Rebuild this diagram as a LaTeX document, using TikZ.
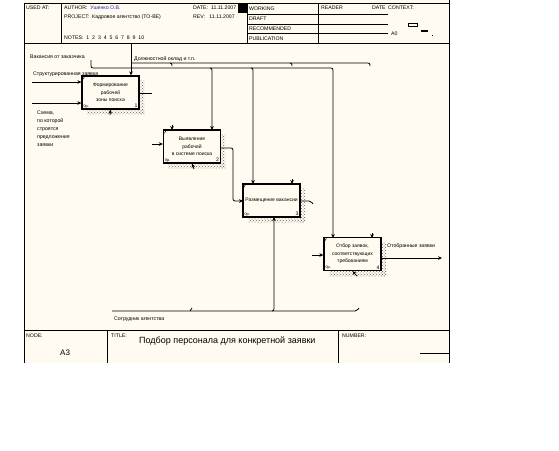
\documentclass[tikz,border=0pt]{standalone}
\usepackage{fontspec}
\setmainfont{Liberation Sans}
\usetikzlibrary{arrows.meta,patterns,calc}
\definecolor{cream}{RGB}{255,251,240}
\definecolor{authblue}{RGB}{40,40,170}
\begin{document}
\begin{tikzpicture}[x=1pt,y=-1pt,
  tiny/.style={font=\fontsize{5.2}{6}\selectfont, inner sep=0pt},
  lbl/.style={tiny, anchor=base west},
  frameline/.style={line width=0.8pt},
  conn/.style={line width=0.8pt, rounded corners=2pt},
  arr/.style={conn, -{Stealth[length=4pt,width=3.6pt]}},
  box/.style={draw, line width=1.3pt, fill=cream, minimum width=57pt, minimum height=33pt,
    inner sep=0pt, align=center, font=\fontsize{5}{7.5}\selectfont},
  shadowpat/.style={pattern=crosshatch dots, pattern color=black!60},
]
\useasboundingbox (0,0) rectangle (559,450);
\fill[cream] (24,0) rectangle (449,363);
% ---------- frame ----------
\draw[frameline] (24,3) -- (449,3);
\draw[frameline] (24,3) -- (24,363);
\draw[frameline] (449,0) -- (449,363);
\draw[frameline] (24,43) -- (449,43);
\draw[frameline] (61,3) -- (61,43);
\draw[frameline] (247,3) -- (247,43);
\draw[frameline] (318,3) -- (318,43);
\draw[frameline] (247,14) -- (388,14);
\draw[frameline] (247,24) -- (388,24);
\draw[frameline] (247,33) -- (388,33);
\fill (238,3) rectangle (247,13);
\draw[frameline] (24,330) -- (449,330);
\draw[frameline] (107,330) -- (107,363);
\draw[frameline] (338,330) -- (338,363);
\draw[frameline] (420,353) -- (449,353);
% header text
\node[lbl] (usedat) at (26,9) {USED AT:};
\node[lbl] (author) at (64,9) {AUTHOR:\ \ \textcolor{authblue}{Ушенко О.В.}};
\node[lbl] (project) at (64,18) {PROJECT:\ \ Кадровое агентство (TO-BE)};
\node[lbl] (notes) at (64,39) {NOTES:\ \ 1\ \ 2\ \ 3\ \ 4\ \ 5\ \ 6\ \ 7\ \ 8\ \ 9\ \ 10};
\node[lbl] (date) at (193,9) {DATE:\ \ 11.11.2007};
\node[lbl] (rev) at (193,18) {REV:\ \ \ 11.11.2007};
\node[lbl] (working) at (249,10) {WORKING};
\node[lbl] (draft) at (249,20) {DRAFT};
\node[lbl] (recom) at (249,30) {RECOMMENDED};
\node[lbl] (publ) at (249,40) {PUBLICATION};
\node[lbl] (reader) at (321,9) {READER};
\node[lbl] (rdate) at (372,9) {DATE};
\node[lbl] (context) at (388,9) {CONTEXT:};
\draw[line width=0.6pt] (408,23) rectangle (417,26);
\fill (421,29.5) rectangle (428,32);
\fill (432,35) rectangle (433,36);
\node[lbl] (ctxnode) at (391,35) {A0};
% bottom text
\node[lbl] (nodelbl) at (26,337) {NODE:};
\node[anchor=base west, inner sep=0pt, font=\fontsize{8}{9}\selectfont] (nodenum) at (60,355) {A3};
\node[lbl] (titlelbl) at (111,337) {TITLE:};
\node[anchor=base west, inner sep=0pt, font=\fontsize{9}{10}\selectfont] (title) at (139,343) {Подбор персонала для конкретной заявки};
\node[lbl] (numlbl) at (342,337) {NUMBER:};
% ---------- shadows ----------
\foreach \b/\x/\y in {b1/82/76, b2/163/130, b3/243/184, b4/324/238} {
  \fill[shadowpat] (\x+57,\y+4) rectangle (\x+62,\y+38);
  \fill[shadowpat] (\x+5,\y+33) rectangle (\x+62,\y+38);
}
% ---------- boxes ----------
\node[box] (b1) at (110.5,92.5) {Формирование\\рабочей\\зоны поиска};
\node[box] (b2) at (192,146.5) {Выявление\\рабочей\\в системе поиска};
\node[box] (b3) at (271.5,200.5) {Размещение вакансии};
\node[box] (b4) at (352.5,254) {Отбор заявок,\\соответствующих\\требованиям};
\foreach \b/\n in {b1/1, b2/2, b3/3, b4/4} {
  \node[tiny, anchor=south east] (\b num) at ($(\b.south east)+(-2,-1.5)$) {\n};
  \node[tiny, anchor=south west, font=\fontsize{3.8}{4}\selectfont] (\b cost) at ($(\b.south west)+(2,-1.5)$) {0р.};
  \draw[line width=0.5pt] ($(\b.north west)+(1.5,4)$) -- ($(\b.north west)+(3,1.5)$);
}
% ---------- labels ----------
\node[lbl] (lvac) at (30,58) {Вакансия от заказчика};
\node[lbl] (lstr) at (33,75) {Структурированная заявка};
\node[tiny, anchor=north west, align=left, font=\fontsize{5.2}{8}\selectfont] (lsch) at (37,111) {Схема,\\по которой\\строятся\\предложения\\заявки};
\node[lbl] (lokl) at (134,60) {Должностной оклад и т.п.};
\node[lbl] (lout) at (387,247) {Отобранные заявки};
\node[lbl] (lmech) at (114,320) {Сотрудник агентства};
% ---------- coordinates ----------
\coordinate (c1top) at (131,44);
\coordinate (l1a) at (131,63);
\coordinate (l1end) at (370,63);
\coordinate (l2start) at (91,60);
\coordinate (i1s) at (32,82);
\coordinate (i2s) at (32,103);
\coordinate (o1e) at (152,93);
\coordinate (i2b) at (152,144);
\coordinate (o2m) at (233,148);
\coordinate (o3e) at (311,201);
\coordinate (i4s) at (312,255);
\coordinate (o4e) at (442,258);
\coordinate (mline) at (112,311);
\coordinate (mend) at (357,311);
% ---------- connectors ----------
\draw[arr] (c1top) -- (c1top |- b1.north);
\draw[conn] (l1a) -- (l1end) -- ++(0,3);
\draw[conn] (170,63) -| (172,66);
\draw[conn] (290,63) -| (292,66);
\draw[arr] (l2start) |- (333,68) -- (333,238);
\draw[arr] (210,68) -| (212,130);
\draw[arr] (251,68) -| (253,184);
% top stubs
\draw[arr] (172,125) -- (172,130);
\draw[arr] (292,179) -- (292,184);
\draw[arr] (372,233) -- (372,238);
% inputs
\draw[arr] (i1s) -- (i1s -| b1.west);
\draw[arr] (i2s) -- (i2s -| b1.west);
\draw[conn] (o1e -| b1.east) -- (o1e);
\draw[arr] (i2b) -- (i2b -| b2.west);
\draw[arr] (o2m -| b2.east) -- (o2m) |- (243,201);
\draw[conn] (o3e -| b3.east) -- (o3e) -- ++(2,3);
\draw[arr] (i4s) -- (i4s -| b4.west);
\draw[arr] (o4e -| b4.east) -- (o4e);
% mechanisms
\draw[conn] (mline) -- (mend) -- ++(2,-3);
\draw[conn] (190,311) -- (192,308);
\draw[arr] (272,311) -| (274,217);
\draw[arr] (110,115) -- (b1.south);
\draw[arr] (194,169) -- (b2.south);
\draw[arr] (357,276) -- (b4.south);
\end{tikzpicture}
\end{document}
